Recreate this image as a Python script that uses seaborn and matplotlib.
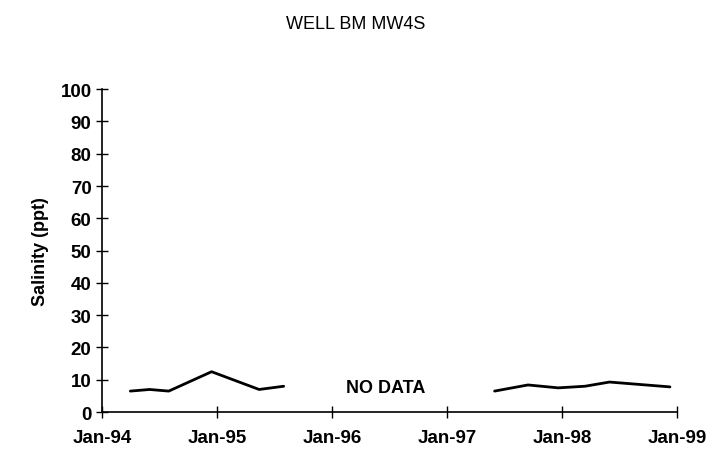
import pandas as pd
import matplotlib.pyplot as plt
import matplotlib.dates as mdates
import seaborn as sns

# salinity readings, two sampling periods with a gap between
dates1 = ['1994-04-01', '1994-06-01', '1994-08-01', '1994-12-15', '1995-05-15', '1995-08-01']
sal1 = [6.5, 7.0, 6.5, 12.5, 7.0, 8.0]
dates2 = ['1997-06-01', '1997-09-15', '1997-12-20', '1998-03-15', '1998-06-01', '1998-12-10']
sal2 = [6.5, 8.4, 7.5, 8.0, 9.3, 7.8]

xticks = ['1994-01-01', '1995-01-01', '1996-01-01', '1997-01-01', '1998-01-01', '1999-01-01']
yticks = [0, 10, 20, 30, 40, 50, 60, 70, 80, 90, 100]

df1 = pd.DataFrame({'date': pd.to_datetime(dates1), 'salinity': sal1})
df2 = pd.DataFrame({'date': pd.to_datetime(dates2), 'salinity': sal2})

sns.set_style('white', {'xtick.bottom': True, 'ytick.left': True,
                        'text.color': 'black', 'axes.labelcolor': 'black',
                        'xtick.color': 'black', 'ytick.color': 'black'})
plt.rcParams['font.family'] = ['Liberation Sans', 'DejaVu Sans']

fig = plt.figure(figsize=(7.11, 4.60), dpi=100)
ax = fig.add_axes([0.1435, 0.102, 0.8085, 0.702])

sns.lineplot(data=df1, x='date', y='salinity', color='black', linewidth=2, ax=ax)
sns.lineplot(data=df2, x='date', y='salinity', color='black', linewidth=2, ax=ax)

ax.text(pd.Timestamp('1996-06-20'), 7.7, 'NO DATA', fontsize=13, fontweight='bold',
        ha='center', va='center')

ax.set_xlim(pd.Timestamp(xticks[0]), pd.Timestamp(xticks[-1]))
ax.set_ylim(0, 100)
ax.set_xticks(pd.to_datetime(xticks))
ax.xaxis.set_major_formatter(mdates.DateFormatter('%b-%y'))
ax.set_yticks(yticks)

ax.tick_params(axis='both', direction='inout', length=9, width=1, color='black',
               labelsize=13.5, labelcolor='black')
ax.tick_params(axis='x', pad=8)
ax.tick_params(axis='y', pad=3)
for lab in ax.get_xticklabels() + ax.get_yticklabels():
    lab.set_fontweight('bold')
for s in ['top', 'right']:
    ax.spines[s].set_visible(False)
for s in ['left', 'bottom']:
    ax.spines[s].set_color('black')
    ax.spines[s].set_linewidth(1.2)

ax.set_xlabel('')
ax.set_ylabel('Salinity (ppt)', fontsize=13, fontweight='bold', labelpad=8)
fig.suptitle('WELL BM MW4S', fontsize=13, x=0.5, y=0.965)

fig.savefig('out.png', dpi=100)
